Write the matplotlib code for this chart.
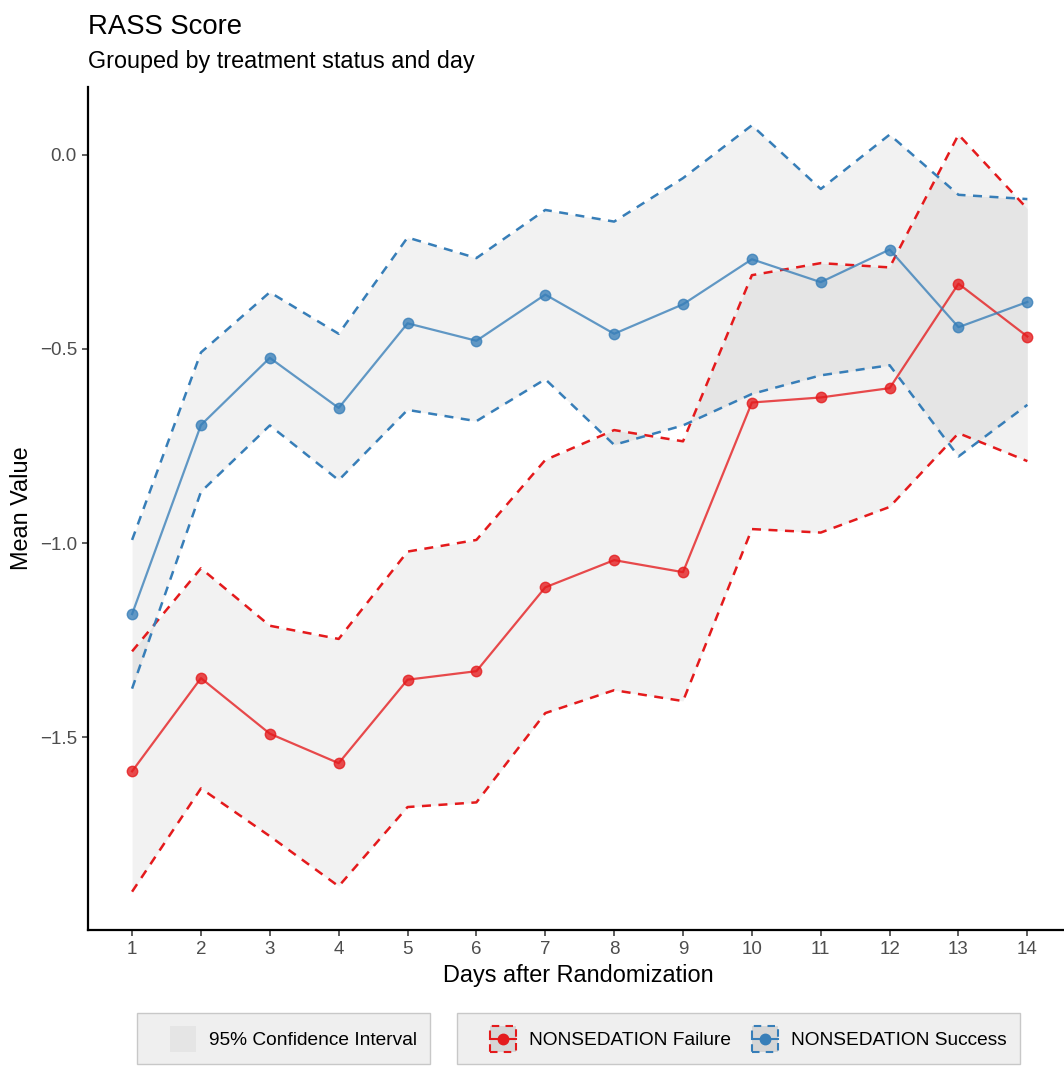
import numpy as np
import matplotlib
matplotlib.use("Agg")
import matplotlib.pyplot as plt
from matplotlib.patches import Rectangle
from matplotlib.lines import Line2D
from matplotlib.legend_handler import HandlerBase

plt.rcParams['font.family'] = ['Liberation Sans', 'DejaVu Sans']

# values
days = [1, 2, 3, 4, 5, 6, 7, 8, 9, 10, 11, 12, 13, 14]

fail_mean = [-1.588, -1.348, -1.491, -1.567, -1.352, -1.330, -1.114,
             -1.044, -1.075, -0.638, -0.625, -0.601, -0.332, -0.468]
fail_lower = [-1.898, -1.632, -1.755, -1.884, -1.680, -1.668, -1.438,
              -1.379, -1.407, -0.964, -0.973, -0.907, -0.717, -0.789]
fail_upper = [-1.279, -1.065, -1.213, -1.247, -1.022, -0.992, -0.786,
              -0.709, -0.738, -0.310, -0.279, -0.290, 0.052, -0.139]

succ_mean = [-1.183, -0.696, -0.523, -0.652, -0.434, -0.479, -0.360,
             -0.461, -0.385, -0.269, -0.328, -0.244, -0.444, -0.379]
succ_lower = [-1.375, -0.868, -0.697, -0.838, -0.657, -0.686, -0.578,
              -0.747, -0.697, -0.616, -0.568, -0.542, -0.777, -0.644]
succ_upper = [-0.992, -0.509, -0.354, -0.461, -0.213, -0.266, -0.142,
              -0.172, -0.060, 0.076, -0.088, 0.052, -0.103, -0.114]

y_ticks = [0.0, -0.5, -1.0, -1.5]

RED = '#E41A1C'
BLUE = '#377EB8'

W, H = 1064, 1067
fig = plt.figure(figsize=(W / 100, H / 100), dpi=100)
ax = fig.add_axes([88 / W, (H - 930) / H, (1068 - 88) / W, (930 - 87) / H])

series = [
    ("NONSEDATION Failure", RED, fail_mean, fail_lower, fail_upper),
    ("NONSEDATION Success", BLUE, succ_mean, succ_lower, succ_upper),
]

ci_handle = None
line_handles = []
for name, col, m, lo, hi in series:
    ci_handle = ax.fill_between(days, lo, hi, color='black', alpha=0.05,
                                linewidth=0, zorder=1)
    ax.plot(days, lo, color=col, lw=1.8, dashes=(3.6, 3.0), zorder=2)
    ax.plot(days, hi, color=col, lw=1.8, dashes=(3.6, 3.0), zorder=2)
    ln, = ax.plot(days, m, color=col, lw=1.6, marker='o', ms=7.5,
                  alpha=0.78, zorder=3, label=name)
    line_handles.append(ln)

# ggplot-like expansion
allv = np.concatenate([fail_lower, fail_upper, succ_lower, succ_upper])
rng = allv.max() - allv.min()
ax.set_ylim(allv.min() - 0.05 * rng, allv.max() + 0.05 * rng)
ax.set_xlim(0.36, 14.59)

ax.set_xticks(days)
ax.set_xticklabels([str(d) for d in days])
ax.set_yticks(y_ticks)
ax.set_yticklabels([f"{v:.1f}".replace('-', '\u2212') for v in y_ticks])
ax.tick_params(axis='both', labelsize=13.5, labelcolor='#4D4D4D',
               length=4, width=1.1, color='#333333', pad=4)

for s in ['top', 'right']:
    ax.spines[s].set_visible(False)
for s in ['left', 'bottom']:
    ax.spines[s].set_linewidth(1.6)
    ax.spines[s].set_color('black')

ax.set_xlabel("Days after Randomization", fontsize=16.9, labelpad=4)
ax.set_ylabel("Mean Value", fontsize=16.9, labelpad=5)

fig.text(88 / W, 1 - 34 / H, "RASS Score", fontsize=19.8, va='baseline')
fig.text(88 / W, 1 - 68 / H, "Grouped by treatment status and day",
         fontsize=16.8, va='baseline')


# legend keys
class CIKey(HandlerBase):
    def create_artists(self, legend, orig, xd, yd, w, h, fs, trans):
        r = Rectangle((-xd + w - h, -yd), h, h, facecolor='#E5E5E5',
                      edgecolor='none', transform=trans)
        return [r]


class SeriesKey(HandlerBase):
    def create_artists(self, legend, orig, xd, yd, w, h, fs, trans):
        col = orig.get_color()
        x0 = -xd + w - h
        r = Rectangle((x0, -yd), h, h, facecolor='#D6D6D6', edgecolor=col,
                      linestyle=(0, (3.6, 3.0)), linewidth=1.5,
                      transform=trans)
        l = Line2D([x0, x0 + h], [-yd + h / 2] * 2, color=col, lw=1.5,
                   transform=trans)
        p = Line2D([x0 + h / 2], [-yd + h / 2], color=col, marker='o',
                   ms=7.5, transform=trans)
        return [r, l, p]


fs = 13.8
leg_kw = dict(loc='upper left', fontsize=fs, frameon=True, fancybox=False,
              framealpha=1, facecolor='#EFEFEF', edgecolor='#C8C8C8',
              borderaxespad=0, borderpad=0.66, handletextpad=0.7,
              handlelength=2.4, handleheight=1.72, columnspacing=0.05)

leg1 = fig.legend([ci_handle], ["95% Confidence Interval"],
                  bbox_to_anchor=(137 / W, 1 - 1013 / H),
                  handler_map={ci_handle: CIKey()}, **leg_kw)
leg1.get_frame().set_linewidth(1.0)

leg2 = fig.legend(line_handles, [h.get_label() for h in line_handles],
                  bbox_to_anchor=(457 / W, 1 - 1013 / H), ncol=2,
                  handler_map={h: SeriesKey() for h in line_handles}, **leg_kw)
leg2.get_frame().set_linewidth(1.0)

fig.savefig("out.png", dpi=100)
